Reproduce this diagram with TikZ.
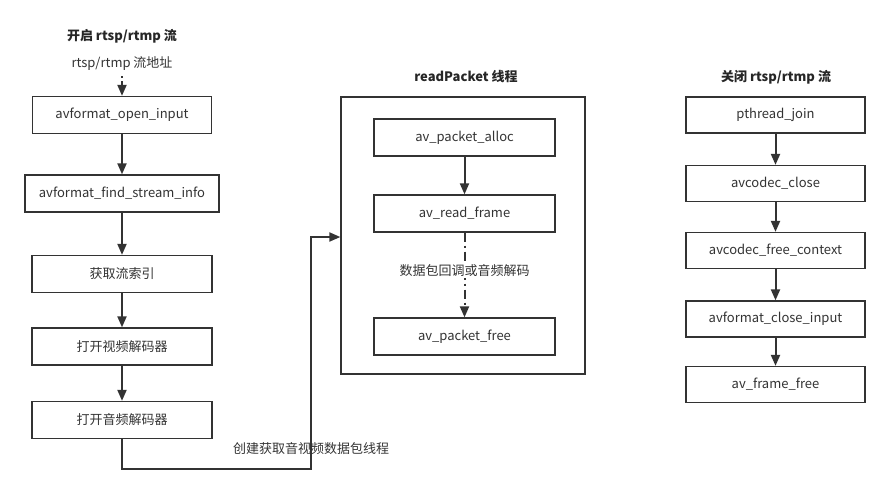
\documentclass[tikz,border=0pt]{standalone}
\usepackage{fontspec}
\setmainfont{Noto Sans CJK SC}
\usetikzlibrary{arrows.meta}
\tikzset{
  fn/.style={draw=black!80,line width=1.3pt,fill=white,minimum height=37pt,inner sep=0pt,text=black!80,font=\fontsize{13}{15}\selectfont},
  flow/.style={draw=black!80,line width=2pt,-{Triangle[width=9pt,length=11pt]}},
  title/.style={text=black!85,font=\fontsize{13}{15}\selectfont\bfseries},
  note/.style={text=black!80,font=\fontsize{13}{15}\selectfont},
}
\begin{document}
\begin{tikzpicture}[x=1pt,y=-1pt]
      \useasboundingbox (0,0) rectangle (890,493);
      % left column
      \node[title] (open) at (122,36) {开启 rtsp/rtmp 流};
      \node[note] (url) at (122,64) {rtsp/rtmp 流地址};
      \node[fn,minimum width=179pt] (oi) at (122,115) {avformat\_open\_input};
      \node[fn,minimum width=194pt] (fsi) at (122,193.5) {avformat\_find\_stream\_info};
      \node[fn,minimum width=180pt] (idx) at (122,274) {获取流索引};
      \node[fn,minimum width=180pt] (vdec) at (122,346.5) {打开视频解码器};
      \node[fn,minimum width=180pt] (adec) at (122,420) {打开音频解码器};
      \draw[flow,dash pattern=on 2pt off 3pt on 30pt off 0pt] (122,76) -- (oi.north);
      \draw[flow] (oi) -- (fsi);
      \draw[flow] (fsi) -- (idx);
      \draw[flow] (idx) -- (vdec);
      \draw[flow] (vdec) -- (adec);

      % readPacket thread
      \node[title] (rp) at (466,77) {readPacket 线程};
      \node[draw=black!80,line width=1.3pt,minimum width=244pt,minimum height=277pt,inner sep=0pt] (thr) at (463,235.5) {};
      \node[fn,minimum width=181pt] (alloc) at (464.5,137.5) {av\_packet\_alloc};
      \node[fn,minimum width=181pt] (rf) at (464.5,213.5) {av\_read\_frame};
      \node[fn,minimum width=181pt] (pfree) at (464.5,336.5) {av\_packet\_free};
      \draw[flow] (alloc) -- (rf);
      \draw[flow,dash pattern=on 9pt off 4pt on 2pt off 4pt] (rf) -- (pfree)
        node[pos=0.45,fill=white,note,inner sep=1pt] (cb) {数据包回调或音频解码};

      % thread creation
      \coordinate (c1) at (122,469);
      \coordinate (c2) at (311,469);
      \coordinate (c3) at (311,237);
      \node[note] (mk) at (311,449) {创建获取音视频数据包线程};
      \draw[flow] (adec) -- (c1) -- (c2) -- (c3) -- (c3 -| thr.west);

      % right column
      \node[title] (close) at (776,77) {关闭 rtsp/rtmp 流};
      \node[fn,minimum width=179pt,minimum height=36pt] (join) at (775.5,115) {pthread\_join};
      \node[fn,minimum width=179pt,minimum height=36pt] (cc) at (775.5,183.5) {avcodec\_close};
      \node[fn,minimum width=179pt,minimum height=36pt] (fc) at (775.5,250.5) {avcodec\_free\_context};
      \node[fn,minimum width=179pt,minimum height=36pt] (ci) at (775.5,319) {avformat\_close\_input};
      \node[fn,minimum width=179pt,minimum height=36pt] (ff) at (775.5,384.5) {av\_frame\_free};
      \draw[flow] (join) -- (cc);
      \draw[flow] (cc) -- (fc);
      \draw[flow] (fc) -- (ci);
      \draw[flow] (ci) -- (ff);
\end{tikzpicture}
\end{document}
